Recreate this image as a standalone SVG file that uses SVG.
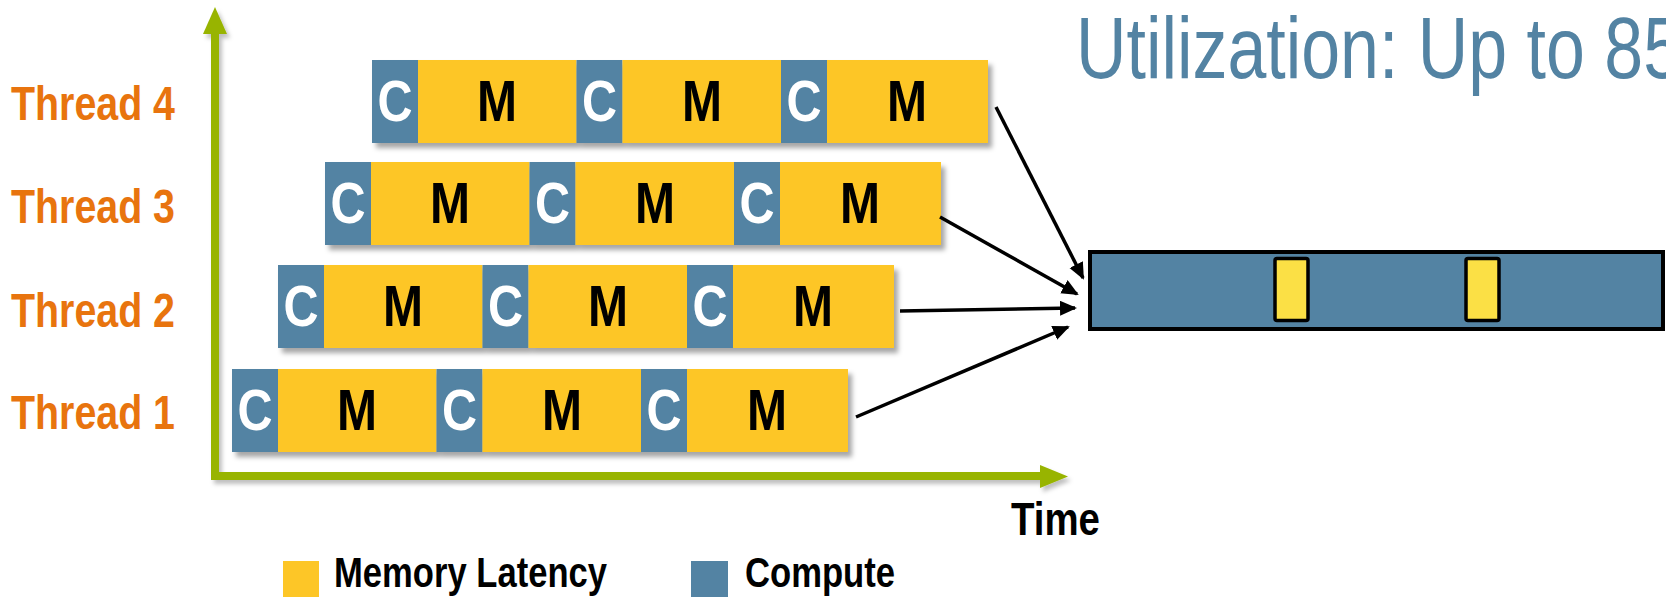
<svg xmlns="http://www.w3.org/2000/svg" width="1666" height="597" viewBox="0 0 1666 597">
  <defs>
    <filter id="shadow" x="-5%" y="-20%" width="115%" height="160%">
      <feDropShadow dx="4" dy="5" stdDeviation="2.5" flood-color="#000" flood-opacity="0.35"/>
    </filter>
    <filter id="axisShadow" x="-5%" y="-5%" width="115%" height="115%">
      <feDropShadow dx="3" dy="4" stdDeviation="2" flood-color="#000" flood-opacity="0.25"/>
    </filter>
    <marker id="head" markerUnits="userSpaceOnUse" markerWidth="18" markerHeight="16" refX="15" refY="7.5" orient="auto">
      <path d="M0,0 L17,7.5 L0,15 z" fill="#000"/>
    </marker>
  </defs>
  <style>
    .c { fill: #5383A3; }
    .m { fill: #FDC627; }
    .lc { font-family: "Liberation Sans", Arial, sans-serif; font-weight: bold; font-size: 58px; fill: #fff; text-anchor: middle; }
    .lm { font-family: "Liberation Sans", Arial, sans-serif; font-weight: bold; font-size: 58px; fill: #000; text-anchor: middle; }
    .thread { font-family: "Liberation Sans", Arial, sans-serif; font-weight: bold; font-size: 48px; fill: #E8740E; }
    .legend { font-family: "Liberation Sans", Arial, sans-serif; font-weight: bold; font-size: 42px; fill: #000; }
    .title { font-family: "Liberation Sans", Arial, sans-serif; font-size: 88px; fill: #5383A3; }
    .conn { stroke: #000; stroke-width: 3.5; fill: none; marker-end: url(#head); }
  </style>

  <!-- Title (runs off the right edge) -->
  <text class="title" x="1076" y="78" textLength="606" lengthAdjust="spacingAndGlyphs">Utilization: Up to 85</text>

  <!-- Thread labels -->
  <g id="labels">
    <text class="thread" x="11" y="120" textLength="164" lengthAdjust="spacingAndGlyphs">Thread 4</text>
    <text class="thread" x="11" y="223" textLength="164" lengthAdjust="spacingAndGlyphs">Thread 3</text>
    <text class="thread" x="11" y="327" textLength="164" lengthAdjust="spacingAndGlyphs">Thread 2</text>
    <text class="thread" x="11" y="429" textLength="164" lengthAdjust="spacingAndGlyphs">Thread 1</text>
  </g>

  <!-- Axes -->
  <g id="axes" filter="url(#axisShadow)">
    <path d="M215,30 V476 H1042" fill="none" stroke="#98B406" stroke-width="8" stroke-linejoin="miter"/>
    <polygon points="215,7 227,34 203,34" fill="#98B406"/>
    <polygon points="1068,476.5 1040,465 1040,488" fill="#98B406"/>
  </g>

  <!-- Thread 4 -->
  <g id="thread4" filter="url(#shadow)">
    <rect class="c" x="372" y="60" width="46" height="83"/>
    <rect class="m" x="418" y="60" width="158.5" height="83"/>
    <rect class="c" x="576.5" y="60" width="46" height="83"/>
    <rect class="m" x="622.5" y="60" width="158.5" height="83"/>
    <rect class="c" x="781" y="60" width="46" height="83"/>
    <rect class="m" x="827" y="60" width="161" height="83"/>
  </g>
  <g id="thread4-text">
    <text class="lc" x="395" y="121" textLength="35" lengthAdjust="spacingAndGlyphs">C</text>
    <text class="lm" x="497" y="121" textLength="40" lengthAdjust="spacingAndGlyphs">M</text>
    <text class="lc" x="599.5" y="121" textLength="35" lengthAdjust="spacingAndGlyphs">C</text>
    <text class="lm" x="702" y="121" textLength="40" lengthAdjust="spacingAndGlyphs">M</text>
    <text class="lc" x="804" y="121" textLength="35" lengthAdjust="spacingAndGlyphs">C</text>
    <text class="lm" x="907" y="121" textLength="40" lengthAdjust="spacingAndGlyphs">M</text>
  </g>

  <!-- Thread 3 -->
  <g id="thread3" filter="url(#shadow)">
    <rect class="c" x="325" y="162" width="46" height="83"/>
    <rect class="m" x="371" y="162" width="158.5" height="83"/>
    <rect class="c" x="529.5" y="162" width="46" height="83"/>
    <rect class="m" x="575.5" y="162" width="158.5" height="83"/>
    <rect class="c" x="734" y="162" width="46" height="83"/>
    <rect class="m" x="780" y="162" width="161" height="83"/>
  </g>
  <g id="thread3-text">
    <text class="lc" x="348" y="223" textLength="35" lengthAdjust="spacingAndGlyphs">C</text>
    <text class="lm" x="450" y="223" textLength="40" lengthAdjust="spacingAndGlyphs">M</text>
    <text class="lc" x="552.5" y="223" textLength="35" lengthAdjust="spacingAndGlyphs">C</text>
    <text class="lm" x="655" y="223" textLength="40" lengthAdjust="spacingAndGlyphs">M</text>
    <text class="lc" x="757" y="223" textLength="35" lengthAdjust="spacingAndGlyphs">C</text>
    <text class="lm" x="860" y="223" textLength="40" lengthAdjust="spacingAndGlyphs">M</text>
  </g>

  <!-- Thread 2 -->
  <g id="thread2" filter="url(#shadow)">
    <rect class="c" x="278" y="265" width="46" height="83"/>
    <rect class="m" x="324" y="265" width="158.5" height="83"/>
    <rect class="c" x="482.5" y="265" width="46" height="83"/>
    <rect class="m" x="528.5" y="265" width="158.5" height="83"/>
    <rect class="c" x="687" y="265" width="46" height="83"/>
    <rect class="m" x="733" y="265" width="161" height="83"/>
  </g>
  <g id="thread2-text">
    <text class="lc" x="301" y="326" textLength="35" lengthAdjust="spacingAndGlyphs">C</text>
    <text class="lm" x="403" y="326" textLength="40" lengthAdjust="spacingAndGlyphs">M</text>
    <text class="lc" x="505.5" y="326" textLength="35" lengthAdjust="spacingAndGlyphs">C</text>
    <text class="lm" x="608" y="326" textLength="40" lengthAdjust="spacingAndGlyphs">M</text>
    <text class="lc" x="710" y="326" textLength="35" lengthAdjust="spacingAndGlyphs">C</text>
    <text class="lm" x="813" y="326" textLength="40" lengthAdjust="spacingAndGlyphs">M</text>
  </g>

  <!-- Thread 1 -->
  <g id="thread1" filter="url(#shadow)">
    <rect class="c" x="232" y="369" width="46" height="83"/>
    <rect class="m" x="278" y="369" width="158.5" height="83"/>
    <rect class="c" x="436.5" y="369" width="46" height="83"/>
    <rect class="m" x="482.5" y="369" width="158.5" height="83"/>
    <rect class="c" x="641" y="369" width="46" height="83"/>
    <rect class="m" x="687" y="369" width="161" height="83"/>
  </g>
  <g id="thread1-text">
    <text class="lc" x="255" y="430" textLength="35" lengthAdjust="spacingAndGlyphs">C</text>
    <text class="lm" x="357" y="430" textLength="40" lengthAdjust="spacingAndGlyphs">M</text>
    <text class="lc" x="459.5" y="430" textLength="35" lengthAdjust="spacingAndGlyphs">C</text>
    <text class="lm" x="562" y="430" textLength="40" lengthAdjust="spacingAndGlyphs">M</text>
    <text class="lc" x="664" y="430" textLength="35" lengthAdjust="spacingAndGlyphs">C</text>
    <text class="lm" x="767" y="430" textLength="40" lengthAdjust="spacingAndGlyphs">M</text>
  </g>

  <!-- Combined core timeline -->
  <g id="core">
    <rect x="1090" y="252" width="573" height="77" fill="#5383A3" stroke="#000" stroke-width="4"/>
    <rect x="1275" y="258.5" width="33" height="62" rx="2" fill="#FBE045" stroke="#000" stroke-width="3.5"/>
    <rect x="1466" y="258.5" width="33" height="62" rx="2" fill="#FBE045" stroke="#000" stroke-width="3.5"/>
  </g>

  <!-- Connectors -->
  <g id="connectors">
    <line class="conn" x1="996" y1="107" x2="1083" y2="278"/>
    <line class="conn" x1="940" y1="217" x2="1077" y2="294"/>
    <line class="conn" x1="900" y1="311" x2="1075" y2="308"/>
    <line class="conn" x1="856" y1="417" x2="1068" y2="327"/>
  </g>

  <!-- Axis label -->
  <text id="time" class="legend" x="1011" y="535" style="font-size:46px" textLength="89" lengthAdjust="spacingAndGlyphs">Time</text>

  <!-- Legend -->
  <g id="legend">
    <rect x="283" y="561" width="36" height="36" fill="#FDC627"/>
    <text class="legend" x="334" y="587" textLength="273" lengthAdjust="spacingAndGlyphs">Memory Latency</text>
    <rect x="691" y="561" width="37" height="36" fill="#5383A3"/>
    <text class="legend" x="745" y="587" textLength="150" lengthAdjust="spacingAndGlyphs">Compute</text>
  </g>
</svg>
